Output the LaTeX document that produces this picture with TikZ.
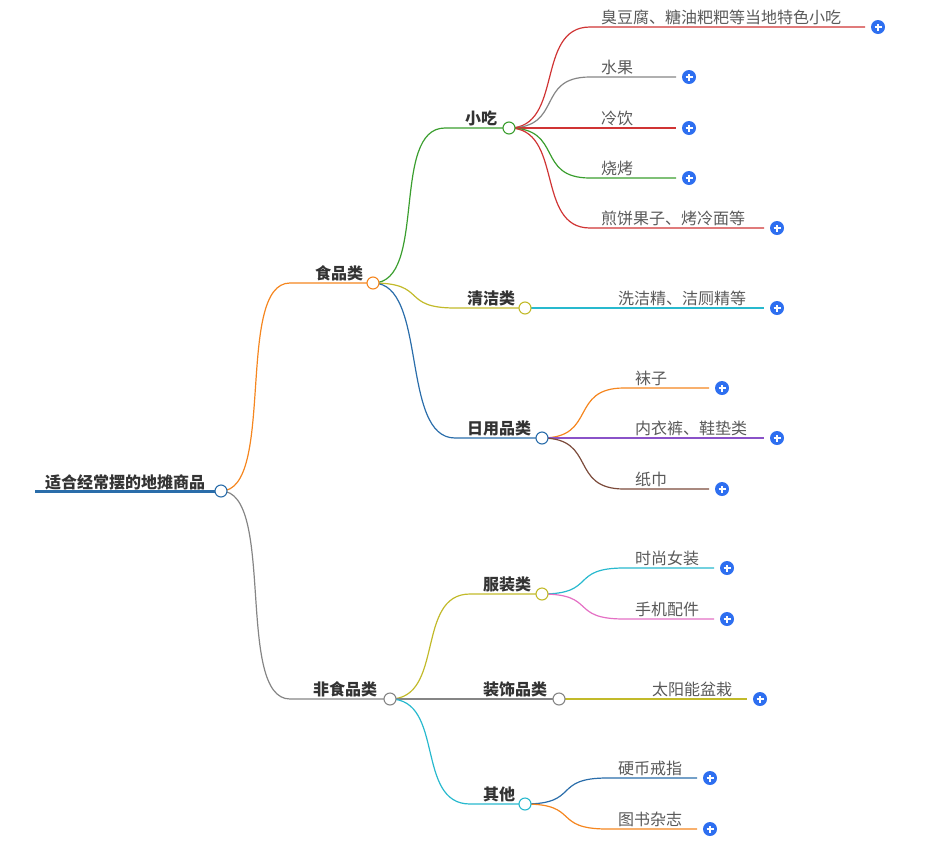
\documentclass[tikz,border=0pt]{standalone}
\usepackage{fontspec}
\setmainfont{Noto Sans CJK SC}
\begin{document}
\begin{tikzpicture}[x=1pt,y=-1pt,
  lbl/.style={anchor=south west,inner sep=0pt,font=\fontsize{16}{16}\selectfont,text=black!65},
  cat/.style={anchor=south west,inner sep=0pt,font=\fontsize{16}{16}\selectfont\bfseries,text=black!80},
  edge/.style={line width=1.2pt},
  dot/.style={circle,draw,fill=white,line width=1.1pt,minimum size=12pt,inner sep=0pt},
  plus/.style={circle,fill=plusblue,minimum size=14pt,inner sep=0pt}]
\definecolor{cred}{HTML}{D03434}\definecolor{cgreen}{HTML}{3A9E2E}
\definecolor{cgray}{HTML}{858585}\definecolor{corange}{HTML}{F5861F}
\definecolor{colive}{HTML}{C2BA2A}\definecolor{cblue}{HTML}{2A6DAA}
\definecolor{ccyan}{HTML}{28B9CE}\definecolor{cpurple}{HTML}{8A52C8}
\definecolor{cbrown}{HTML}{7B4A3A}\definecolor{cpink}{HTML}{E470C4}
\definecolor{plusblue}{HTML}{2E6FF0}
\useasboundingbox (0,0) rectangle (927,847);
\newcommand\mme[4]{\draw[edge,#1] (#2) .. controls +(55,0) and +(-55,0) .. (#3) -- (#4);}
% root
\draw[line width=3pt,cblue] (35,491) -- (215,491);
\node[cat] (root) at (45,490) {适合经常摆的地摊商品};
\coordinate (r) at (221,491);
\coordinate (f0) at (290,283); \coordinate (f) at (373,283);
\coordinate (n0) at (290,699); \coordinate (n) at (390,699);
\mme{corange}{r}{f0}{f}
\mme{cgray}{r}{n0}{n}
\coordinate (s0) at (445,128); \coordinate (s) at (509,128);
\coordinate (q0) at (455,308); \coordinate (q) at (525,308);
\coordinate (d0) at (455,438); \coordinate (d) at (542,438);
\mme{cgreen}{f}{s0}{s}
\mme{colive}{f}{q0}{q}
\mme{cblue}{f}{d0}{d}
\coordinate (c0) at (470,594); \coordinate (c) at (542,594);
\coordinate (z0) at (470,699); \coordinate (z) at (559,699);
\coordinate (o0) at (470,804); \coordinate (o) at (525,804);
\mme{colive}{n}{c0}{c}
\mme{cgray}{n}{z0}{z}
\mme{ccyan}{n}{o0}{o}
\newcommand\leafb[7]{% color, parent, y, endx, name, text, startx
  \coordinate (#5a) at (#7,#3); \coordinate (#5b) at (#4,#3);
  \mme{#1}{#2}{#5a}{#5b}
  \node[lbl] (#5) at (#7+11,#3-2) {#6};
  \node[plus] (#5p) at (#4+13,#3) {};
  \draw[white,line width=1.4pt] ([xshift=-3.5pt]#5p.center) -- ([xshift=3.5pt]#5p.center)
    ([yshift=-3.5pt]#5p.center) -- ([yshift=3.5pt]#5p.center);}
\leafb{cred}{s}{27}{865}{l1}{臭豆腐、糖油粑粑等当地特色小吃}{590}
\leafb{cgray}{s}{77}{676}{l2}{水果}{590}
\leafb{cred}{s}{128}{676}{l3}{冷饮}{590}
\leafb{cgreen}{s}{178}{676}{l4}{烧烤}{590}
\leafb{cred}{s}{228}{764}{l5}{煎饼果子、烤冷面等}{590}
\leafb{ccyan}{q}{308}{764}{l6}{洗洁精、洁厕精等}{607}
\leafb{corange}{d}{388}{709}{l7}{袜子}{624}
\leafb{cpurple}{d}{438}{764}{l8}{内衣裤、鞋垫类}{624}
\leafb{cbrown}{d}{489}{709}{l9}{纸巾}{624}
\leafb{ccyan}{c}{568}{714}{l10}{时尚女装}{624}
\leafb{cpink}{c}{619}{714}{l11}{手机配件}{624}
\leafb{colive}{z}{699}{747}{l12}{太阳能盆栽}{641}
\leafb{cblue}{o}{778}{697}{l13}{硬币戒指}{607}
\leafb{corange}{o}{829}{697}{l14}{图书杂志}{607}
\node[cat] (tf) at (315,281) {食品类};
\node[cat] (tn) at (313,697) {非食品类};
\node[cat] (ts) at (465,126) {小吃};
\node[cat] (tq) at (467,306) {清洁类};
\node[cat] (td) at (467,436) {日用品类};
\node[cat] (tc) at (483,592) {服装类};
\node[cat] (tz) at (483,697) {装饰品类};
\node[cat] (to) at (483,802) {其他};
\node[dot,draw=cblue] at (r) {};
\node[dot,draw=corange] at (f) {};
\node[dot,draw=cgray] at (n) {};
\node[dot,draw=cgreen] at (s) {};
\node[dot,draw=colive] at (q) {};
\node[dot,draw=cblue] at (d) {};
\node[dot,draw=colive] at (c) {};
\node[dot,draw=cgray] at (z) {};
\node[dot,draw=ccyan] at (o) {};
\end{tikzpicture}
\end{document}
